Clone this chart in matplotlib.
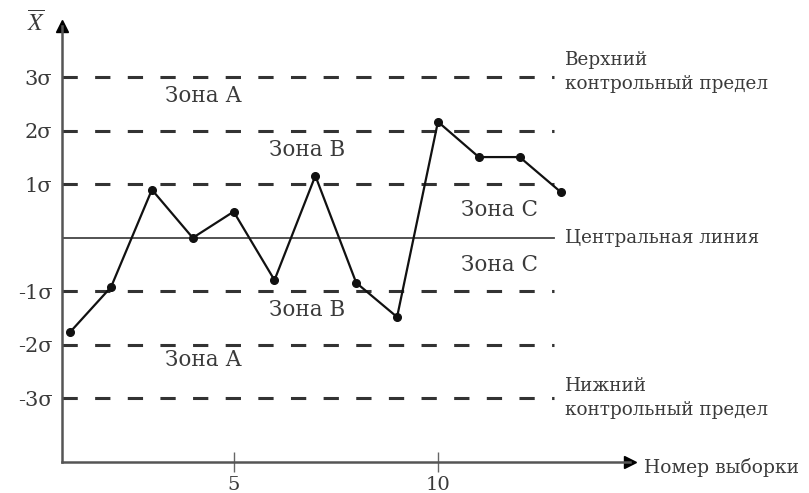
import matplotlib.pyplot as plt

plt.rcParams['font.family'] = ['DejaVu Serif']
plt.rcParams['mathtext.fontset'] = 'stix'
plt.rcParams['lines.scale_dashes'] = False

# sample means in units of sigma
samples = list(range(1, 14))
xbar = [-1.76, -0.92, 0.90, 0.0, 0.49, -0.79, 1.16, -0.84, -1.48, 2.17, 1.51, 1.51, 0.86]

sigma_levels = [3, 2, 1, -1, -2, -3]
sigma_labels = ['3σ', '2σ', '1σ', '-1σ', '-2σ', '-3σ']
x_ticks = [5, 10]

zones = [
    ('Зона А', 4.27, 2.65), ('Зона В', 6.79, 1.645), ('Зона С', 11.51, 0.52),
    ('Зона С', 11.51, -0.50), ('Зона В', 6.79, -1.35), ('Зона А', 4.27, -2.28),
]
limit_labels = [
    ('Верхний\nконтрольный предел', 3.10),
    ('Центральная линия', 0.0),
    ('Нижний\nконтрольный предел', -2.99),
]

txt = '#3a3a3a'
fig = plt.figure(figsize=(8.09, 4.93), dpi=100)
ax = fig.add_axes([62 / 809, 31 / 493, 568 / 809, 436 / 493])
ax.set_xlim(0.80, 14.7)
ax.set_ylim(-4.19, 3.96)

x_end = 12.83
for y in sigma_levels:
    ln, = ax.plot([0.80, x_end], [y, y], color='#333333', lw=2.2)
    ln.set_dashes([11.0, 12.5])
    ln.set_dash_capstyle('butt')
ax.plot([0.80, x_end], [0, 0], color='#444444', lw=1.3)

ax.plot(samples, xbar, color='#111111', lw=1.6, marker='o', ms=5.5, zorder=5)

for label, x, y in zones:
    ax.text(x, y, label, fontsize=15.5, color=txt, va='center', ha='center')
for label, y in limit_labels:
    ax.text(13.1, y, label, fontsize=13.2, color=txt, va='center', ha='left',
            linespacing=1.45, clip_on=False)
ax.text(15.05, -4.29, 'Номер выборки', fontsize=13.5, color=txt, va='center',
        ha='left', clip_on=False)
ax.text(0.16, 4.0, r'$\overline{X}$', fontsize=17, color=txt, va='center',
        ha='center', clip_on=False)

for side in ['top', 'right']:
    ax.spines[side].set_visible(False)
for side in ['left', 'bottom']:
    ax.spines[side].set_color('#555555')
    ax.spines[side].set_linewidth(1.8)
ax.plot(0, 1, marker='^', color='black', ms=9, transform=ax.transAxes, clip_on=False)
ax.plot(1, 0, marker='>', color='black', ms=9, transform=ax.transAxes, clip_on=False)

ax.set_yticks(sigma_levels)
ax.set_yticklabels(sigma_labels, fontsize=15, color=txt)
ax.tick_params(axis='y', length=0, pad=7)
ax.set_xticks(x_ticks)
ax.set_xticklabels([str(t) for t in x_ticks], fontsize=14, color=txt)
ax.tick_params(axis='x', direction='inout', length=14, width=1, color='#666666', pad=3)

fig.savefig('out.png', dpi=100)
